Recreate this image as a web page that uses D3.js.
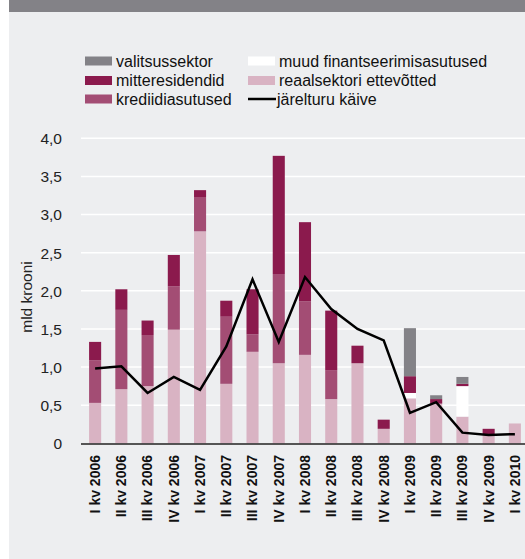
<!DOCTYPE html>
<html><head><meta charset="utf-8">
<script src="https://cdn.jsdelivr.net/npm/d3@7"></script>
<style>html,body{margin:0;padding:0;background:#fff;}svg{display:block;}</style>
</head><body>
<svg id="chart" width="525" height="559"></svg>
<script>
const categories = ["I kv 2006","II kv 2006","III kv 2006","IV kv 2006","I kv 2007","II kv 2007","III kv 2007","IV kv 2007","I kv 2008","II kv 2008","III kv 2008","IV kv 2008","I kv 2009","II kv 2009","III kv 2009","IV kv 2009","I kv 2010"];
const reaalsektori = [0.53,0.71,0.75,1.49,2.78,0.78,1.20,1.05,1.16,0.58,1.05,0.19,0.59,0.52,0.35,0.12,0.26];
const krediidiasutused = [0.56,1.04,0.67,0.57,0.45,0.88,0.23,1.17,0.70,0.38,0,0,0,0,0,0,0];
const muudFin = [0,0,0,0,0,0,0,0,0,0,0,0,0.07,0,0.40,0,0];
const mitteresidendid = [0.24,0.27,0.19,0.41,0.09,0.21,0.59,1.55,1.04,0.78,0.23,0.12,0.22,0.06,0.03,0.07,0];
const valitsussektor = [0,0,0,0,0,0,0,0,0,0,0,0,0.63,0.05,0.09,0,0];
const jarelturu = [0.98,1.01,0.66,0.87,0.70,1.27,2.15,1.33,2.18,1.76,1.50,1.35,0.40,0.54,0.14,0.11,0.12];
const yTicks = [0,0.5,1,1.5,2,2.5,3,3.5,4];

const seriesDefs = [
  {key:"reaal", name:"reaalsektori ettevõtted", values:reaalsektori, color:"#d9b3c3"},
  {key:"kredi", name:"krediidiasutused", values:krediidiasutused, color:"#a34d74"},
  {key:"muud", name:"muud finantseerimisasutused", values:muudFin, color:"#ffffff"},
  {key:"mitte", name:"mitteresidendid", values:mitteresidendid, color:"#8b1a4d"},
  {key:"valits", name:"valitsussektor", values:valitsussektor, color:"#838287"}
];

const FONT = "Liberation Sans, Arial, Helvetica, sans-serif";
const svg = d3.select("#chart");
const W = 525, H = 559;
svg.append("rect").attr("x",9).attr("y",0).attr("width",W-9).attr("height",H).attr("fill","#edeef0");
svg.append("rect").attr("x",9).attr("y",0).attr("width",W-9).attr("height",12).attr("fill","#838287");

const x = d3.scaleBand().domain(categories).range([82,528]).paddingInner(0.54).paddingOuter(0.27);
const y = d3.scaleLinear().domain([0,4]).range([443.3,138.3]);

// gridlines
svg.append("g").selectAll("line").data(yTicks.filter(d=>d>0)).join("line")
  .attr("x1",81).attr("x2",W).attr("y1",d=>y(d)).attr("y2",d=>y(d))
  .attr("stroke","#ffffff").attr("stroke-width",1.5);

// y axis labels
const yAxis = d3.axisLeft(y).tickValues(yTicks).tickSize(0).tickPadding(0)
  .tickFormat(d=> d===0 ? "0" : d3.format(".1f")(d).replace(".",","));
const yg = svg.append("g").attr("transform","translate(62,0)").call(yAxis);
yg.select(".domain").remove();
yg.selectAll("text").attr("font-family",FONT).attr("font-size",15.5).attr("fill","#222").attr("dy","0.35em");

svg.append("text").attr("transform","translate(32,297) rotate(-90)")
  .attr("text-anchor","middle").attr("font-family",FONT)
  .attr("font-size",15.5).attr("fill","#222").text("mld krooni");

// stacked bars
const table = categories.map((c,i)=>{
  const o={cat:c}; seriesDefs.forEach(s=>o[s.key]=s.values[i]); return o;
});
const stack = d3.stack().keys(seriesDefs.map(s=>s.key));
const stacked = stack(table);
svg.append("g").selectAll("g").data(stacked).join("g")
  .attr("fill",(d,i)=>seriesDefs[i].color)
  .selectAll("rect").data(d=>d).join("rect")
  .attr("x",d=>x(d.data.cat)).attr("width",x.bandwidth())
  .attr("y",d=>y(d[1])).attr("height",d=>Math.max(0,y(d[0])-y(d[1])));

// line
const line = d3.line().x((d,i)=>x(categories[i])+x.bandwidth()/2).y(d=>y(d));
svg.append("path").datum(jarelturu).attr("d",line).attr("fill","none")
  .attr("stroke","#000").attr("stroke-width",2.5).attr("stroke-linejoin","miter");

// x axis
svg.append("line").attr("x1",81).attr("x2",W).attr("y1",444).attr("y2",444)
  .attr("stroke","#222").attr("stroke-width",1.5);
const xAxis = d3.axisBottom(x).tickSize(0).tickPadding(0);
const xg = svg.append("g").attr("transform","translate(0,455)").call(xAxis);
xg.select(".domain").remove();
xg.selectAll("text").attr("transform","rotate(-90)").attr("text-anchor","end")
  .attr("x",0).attr("y",0).attr("dx",0).attr("dy","0.35em")
  .attr("font-family",FONT).attr("font-size",14)
  .attr("font-weight","bold").attr("fill","#111");

// legend
const legendItems = [
  {name:"valitsussektor", color:"#838287", type:"box", col:0,row:0},
  {name:"mitteresidendid", color:"#8b1a4d", type:"box", col:0,row:1},
  {name:"krediidiasutused", color:"#a34d74", type:"box", col:0,row:2},
  {name:"muud finantseerimisasutused", color:"#ffffff", type:"box", col:1,row:0},
  {name:"reaalsektori ettevõtted", color:"#d9b3c3", type:"box", col:1,row:1},
  {name:"järelturu käive", color:"#000", type:"line", col:1,row:2}
];
const colX=[85,248], rowY=[61,80.5,99];
const lg = svg.append("g").selectAll("g").data(legendItems).join("g")
  .attr("transform",d=>`translate(${colX[d.col]},${rowY[d.row]})`);
lg.filter(d=>d.type==="box").append("rect").attr("x",0).attr("y",-4.5).attr("width",27).attr("height",9).attr("fill",d=>d.color);
lg.filter(d=>d.type==="line").append("line").attr("x1",0).attr("x2",28).attr("y1",0).attr("y2",0).attr("stroke","#000").attr("stroke-width",2.5);
lg.append("text").attr("x",d=>d.type==="line"?29:31).attr("y",0).attr("dy","0.35em")
  .attr("font-family",FONT).attr("font-size",16).attr("fill","#111").text(d=>d.name);
</script>
</body></html>
